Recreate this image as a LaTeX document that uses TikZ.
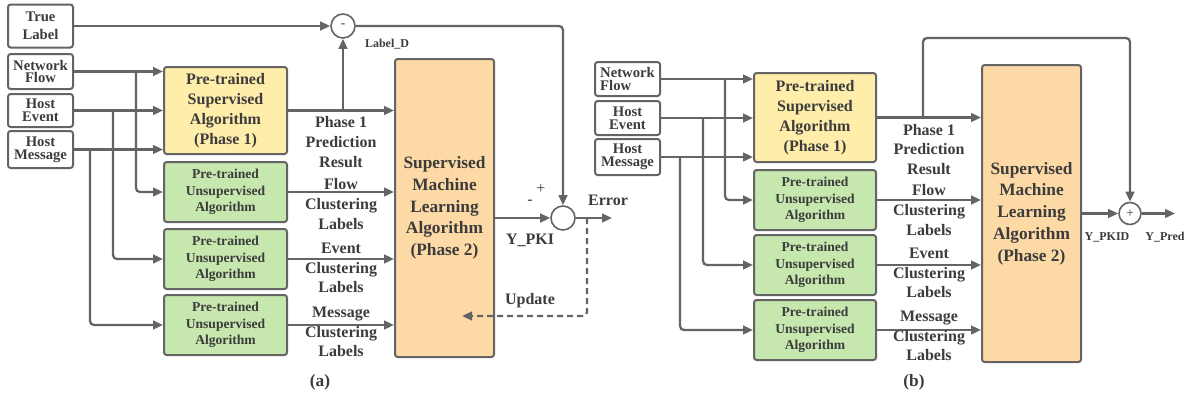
\documentclass[tikz,border=0pt]{standalone}
\usepackage{fontspec}
\setmainfont{Liberation Serif}
\usepackage{xcolor}
\usetikzlibrary{positioning,calc,arrows.meta}

\definecolor{linegray}{HTML}{646464}
\definecolor{txtgray}{HTML}{3C3C3C}
\definecolor{supfill}{HTML}{FFEDAA}
\definecolor{unsfill}{HTML}{C6E7AE}
\definecolor{mlfill}{HTML}{FDD9A6}

\begin{document}
\begin{tikzpicture}[x=0.75pt, y=-0.75pt,
    every node/.style={text=txtgray},
    box/.style={draw=linegray, line width=1.5pt, rounded corners=2pt, align=center, inner sep=0pt},
    inbox/.style={box, fill=white, minimum width=48.75pt, font=\bfseries\fontsize{11}{9.6}\selectfont},
    supbox/.style={box, fill=supfill, font=\bfseries\fontsize{12}{15}\selectfont},
    unsbox/.style={box, fill=unsfill, minimum height=45pt, font=\bfseries\fontsize{10.2}{12.5}\selectfont},
    mlbox/.style={box, fill=mlfill, minimum width=74.25pt, font=\bfseries\fontsize{13}{16.3}\selectfont},
    sumnode/.style={circle, draw=linegray, line width=1.2pt, fill=white, inner sep=0pt, font=\fontsize{10}{10}\selectfont},
    lbl/.style={align=center, inner sep=0pt, font=\bfseries\fontsize{12}{14.7}\selectfont},
    smalltxt/.style={inner sep=0pt, font=\bfseries\fontsize{9}{9}\selectfont},
    signtxt/.style={inner sep=0pt, font=\fontsize{12}{12}\selectfont},
    arr/.style={draw=linegray, line width=1.7pt, -{Triangle[length=7.5pt, width=6.5pt]}}
]
    \path[fill=white, use as bounding box] (0,0) rectangle (1188,400);

    % (a) training of phase 2
    \node[inbox, minimum height=32.25pt, font=\bfseries\fontsize{11}{13.5}\selectfont] (trueA) at (40.5,26) {True\\Label};
    \node[inbox, minimum height=26.25pt] (flowA) at (40.5,71.5) {Network\\Flow};
    \node[inbox, minimum height=24.75pt] (eventA) at (40.5,110.5) {Host\\Event};
    \node[inbox, minimum height=27.75pt] (msgA) at (40.5,149.5) {Host\\Message};

    \node[supbox, minimum width=92.25pt, minimum height=65.25pt] (supA) at (225.5,110.5) {Pre-trained\\Supervised\\Algorithm\\(Phase 1)};
    \node[unsbox, minimum width=92.25pt] (unsA1) at (225.5,192) {Pre-trained\\Unsupervised\\Algorithm};
    \node[unsbox, minimum width=92.25pt] (unsA2) at (225.5,259) {Pre-trained\\Unsupervised\\Algorithm};
    \node[unsbox, minimum width=92.25pt] (unsA3) at (225.5,325) {Pre-trained\\Unsupervised\\Algorithm};
    \node[mlbox, minimum height=223.5pt] (mlA) at (444.5,208) {Supervised\\Machine\\Learning\\Algorithm\\(Phase 2)};

    \node[sumnode, minimum size=18pt] (diffA) at (343,26) {-};
    \node[sumnode, minimum size=18pt] (errA) at (563,218) {};

    % inputs
    \draw[arr] (trueA.east) -- (diffA.west);
    \draw[arr] (flowA.east) -- (flowA.east -| supA.west);
    \draw[arr] (eventA.east) -- (eventA.east -| supA.west);
    \draw[arr] (msgA.east) -- (msgA.east -| supA.west);
    \coordinate (brA1) at (136,0 |- flowA.east);
    \coordinate (brA2) at (113,0 |- eventA.east);
    \coordinate (brA3) at (90,0 |- msgA.east);
    \draw[arr, rounded corners=3pt] (brA1) |- (unsA1.west);
    \draw[arr, rounded corners=3pt] (brA2) |- (unsA2.west);
    \draw[arr, rounded corners=3pt] (brA3) |- (unsA3.west);

    % outputs of the pre-trained models
    \draw[arr] (supA.east) -- (supA.east -| mlA.west) node[lbl, midway, yshift=-23.6pt] {Phase 1\\Prediction\\Result};
    \coordinate (tapA) at (diffA |- supA.east);
    \draw[arr] (tapA) -- (diffA.south);
    \draw[arr] (unsA1.east) -- (unsA1.east -| mlA.west) node[lbl, midway, yshift=-9pt] {Flow\\Clustering\\Labels};
    \draw[arr] (unsA2.east) -- (unsA2.east -| mlA.west) node[lbl, midway, yshift=-6.75pt] {Event\\Clustering\\Labels};
    \draw[arr] (unsA3.east) -- (unsA3.east -| mlA.west) node[lbl, midway, yshift=-5.25pt] {Message\\Clustering\\Labels};
    \node[smalltxt] (lblD) at (387,44) {Label\_D};

    % error and update
    \draw[arr, rounded corners=3pt] (diffA.east) -| (errA.north);
    \draw[arr] (mlA.east |- errA.west) -- (errA.west);
    \node[lbl] (ypki) at (530,240) {Y\_PKI};
    \node[signtxt] (plusA) at (541,189) {+};
    \node[signtxt] (minusA) at (530,202) {-};
    \coordinate (outA) at (612,218);
    \draw[arr] (errA.east) -- (outA);
    \node[lbl] (errlbl) at (608,200) {Error};
    \coordinate (fbA) at (587,218);
    \coordinate (updA) at (462,316);
    \draw[arr, dash pattern=on 4.5pt off 3pt, rounded corners=3pt] (fbA) |- (updA);
    \node[lbl] (updlbl) at (530,301) {Update};
    \node[lbl, font=\bfseries\fontsize{13}{13}\selectfont] (capA) at (320,382) {(a)};

    % (b) prediction
    \node[inbox, minimum height=25.5pt, align=left] (flowB) at (627.5,79) {Network\\Flow};
    \node[inbox, minimum height=25.5pt] (eventB) at (627.5,118) {Host\\Event};
    \node[inbox, minimum height=27pt] (msgB) at (627.5,157) {Host\\Message};

    \node[supbox, minimum width=91.5pt, minimum height=66.75pt] (supB) at (815,117.5) {Pre-trained\\Supervised\\Algorithm\\(Phase 1)};
    \node[unsbox, minimum width=91.5pt] (unsB1) at (815,200) {Pre-trained\\Unsupervised\\Algorithm};
    \node[unsbox, minimum width=91.5pt] (unsB2) at (815,265) {Pre-trained\\Unsupervised\\Algorithm};
    \node[unsbox, minimum width=91.5pt] (unsB3) at (815,330) {Pre-trained\\Unsupervised\\Algorithm};
    \node[mlbox, minimum height=222.75pt] (mlB) at (1031.5,213.5) {Supervised\\Machine\\Learning\\Algorithm\\(Phase 2)};

    \node[sumnode, minimum size=16.5pt] (sumB) at (1130,213.5) {+};

    % inputs
    \draw[arr] (flowB.east) -- (flowB.east -| supB.west);
    \draw[arr] (eventB.east) -- (eventB.east -| supB.west);
    \draw[arr] (msgB.east) -- (msgB.east -| supB.west);
    \coordinate (brB1) at (725,0 |- flowB.east);
    \coordinate (brB2) at (703,0 |- eventB.east);
    \coordinate (brB3) at (680,0 |- msgB.east);
    \draw[arr, rounded corners=3pt] (brB1) |- (unsB1.west);
    \draw[arr, rounded corners=3pt] (brB2) |- (unsB2.west);
    \draw[arr, rounded corners=3pt] (brB3) |- (unsB3.west);

    % outputs of the pre-trained models
    \draw[arr] (supB.east) -- (supB.east -| mlB.west) node[lbl, midway, yshift=-24pt] {Phase 1\\Prediction\\Result};
    \draw[arr] (unsB1.east) -- (unsB1.east -| mlB.west) node[lbl, midway, yshift=-7.5pt] {Flow\\Clustering\\Labels};
    \draw[arr] (unsB2.east) -- (unsB2.east -| mlB.west) node[lbl, midway, yshift=-6pt] {Event\\Clustering\\Labels};
    \draw[arr] (unsB3.east) -- (unsB3.east -| mlB.west) node[lbl, midway, yshift=-4.5pt] {Message\\Clustering\\Labels};

    % skip connection and sum
    \coordinate (tapB) at (923,0 |- supB.east);
    \coordinate (topB) at (tapB |- 0,38);
    \draw[arr, rounded corners=3pt] (tapB) -- (topB) -| (sumB.north);
    \draw[arr] (mlB.east) -- (sumB.west);
    \coordinate (outB) at (1175,213.5);
    \draw[arr] (sumB.east) -- (outB);
    \node[smalltxt] (ypkid) at (1107,237) {Y\_PKID};
    \node[smalltxt] (ypred) at (1165,237) {Y\_Pred};
    \node[lbl, font=\bfseries\fontsize{13}{13}\selectfont] (capB) at (914,382) {(b)};
\end{tikzpicture}
\end{document}
